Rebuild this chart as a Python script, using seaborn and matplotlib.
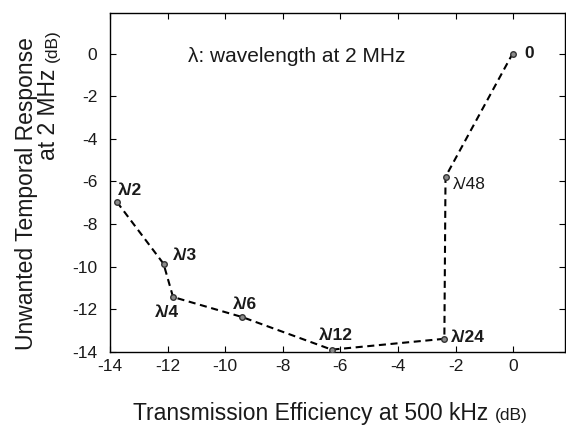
import matplotlib
matplotlib.use("Agg")
import matplotlib.pyplot as plt
import seaborn as sns
import pandas as pd
from matplotlib.offsetbox import TextArea, HPacker, AnchoredOffsetbox

# Data
thickness_labels = ["λ/2", "λ/3", "λ/4", "λ/6", "λ/12", "λ/24", "λ/48", "0"]
transmission_eff = [-13.76, -12.14, -11.81, -9.41, -6.30, -2.39, -2.35, -0.02]
unwanted_resp = [-6.96, -9.86, -11.42, -12.36, -13.89, -13.38, -5.78, 0.0]

x_ticks = [-14, -12, -10, -8, -6, -4, -2, 0]
y_ticks = [0, -2, -4, -6, -8, -10, -12, -14]

df = pd.DataFrame({"x": transmission_eff, "y": unwanted_resp, "label": thickness_labels})

sns.set_theme(style="white")
plt.rcParams["font.family"] = ["Liberation Sans", "DejaVu Sans"]

TXT = "#1a1a1a"

fig = plt.figure(figsize=(5.66, 4.26), dpi=100)
ax = fig.add_axes([0.1943, 0.1737, 0.804, 0.795])

sns.lineplot(data=df, x="x", y="y", sort=False, ax=ax, color="black",
             linestyle=(0, (3.4, 2.2)), linewidth=1.5)
sns.scatterplot(data=df, x="x", y="y", ax=ax, color="#8a8a8a", edgecolor="#333333",
                s=16, linewidth=1.0, zorder=3)

# label offsets in pixels (dx, dy, ha, weight)
offsets = {
    "λ/2": (1, 11, "left", "bold"),
    "λ/3": (9, 8, "left", "bold"),
    "λ/4": (-6, -15, "center", "bold"),
    "λ/6": (3, 13, "center", "bold"),
    "λ/12": (4, 14, "center", "bold"),
    "λ/24": (7, 1, "left", "bold"),
    "λ/48": (7, -8, "left", "normal"),
    "0": (12, 0, "left", "bold"),
}
for lab, xv, yv in zip(thickness_labels, transmission_eff, unwanted_resp):
    dx, dy, ha, wt = offsets[lab]
    ax.annotate(lab, (xv, yv), xytext=(dx, dy), textcoords="offset pixels",
                ha=ha, va="center", fontsize=12.5, fontweight=wt, color=TXT)

ax.text(-7.53, -0.15, "λ: wavelength at 2 MHz", ha="center", va="center",
        fontsize=15, color=TXT)

ax.set_xlim(-14, 1.8)
ax.set_ylim(-14, 1.89)
ax.set_xticks(x_ticks)
ax.set_yticks(y_ticks)
ax.set_xticklabels([str(t) for t in x_ticks])
ax.set_yticklabels([str(t) for t in y_ticks])
ax.tick_params(direction="in", length=4, width=0.8, top=True, right=True,
               bottom=True, left=True, labelsize=12.5, colors="black",
               labelcolor=TXT)
ax.tick_params(axis="x", pad=5)
ax.tick_params(axis="y", pad=9)
for sp in ax.spines.values():
    sp.set_visible(True)
    sp.set_color("black")
    sp.set_linewidth(1.0)
ax.set_xlabel("")
ax.set_ylabel("")

# x-axis label with smaller "(dB)"
xl = HPacker(children=[TextArea("Transmission Efficiency at 500 kHz ",
                                textprops=dict(fontsize=16.5, color=TXT)),
                       TextArea("(dB)", textprops=dict(fontsize=12.5, color=TXT))],
             align="baseline", pad=0, sep=0)
abx = AnchoredOffsetbox(loc="center", child=xl, frameon=False,
                        bbox_to_anchor=(0.583, 0.0305), bbox_transform=fig.transFigure,
                        pad=0, borderpad=0)
fig.add_artist(abx)

# y-axis label (two lines) with smaller "(dB)"
fig.text(0.046, 0.545, "Unwanted Temporal Response", rotation=90,
         ha="center", va="center", fontsize=16.5, color=TXT)
xr = 60 / 566
t2 = fig.text(xr, 1 - 160 / 426, "at 2 MHz ", rotation=90, ha="right", va="bottom",
              fontsize=16.5, color=TXT)
fig.canvas.draw()
r = fig.canvas.get_renderer()
bb = t2.get_window_extent(r)
top_frac = bb.y1 / fig.bbox.height
fig.text(xr, top_frac, "(dB)", rotation=90, ha="right", va="bottom",
         fontsize=12.5, color=TXT)

fig.savefig("out.png", dpi=100)
